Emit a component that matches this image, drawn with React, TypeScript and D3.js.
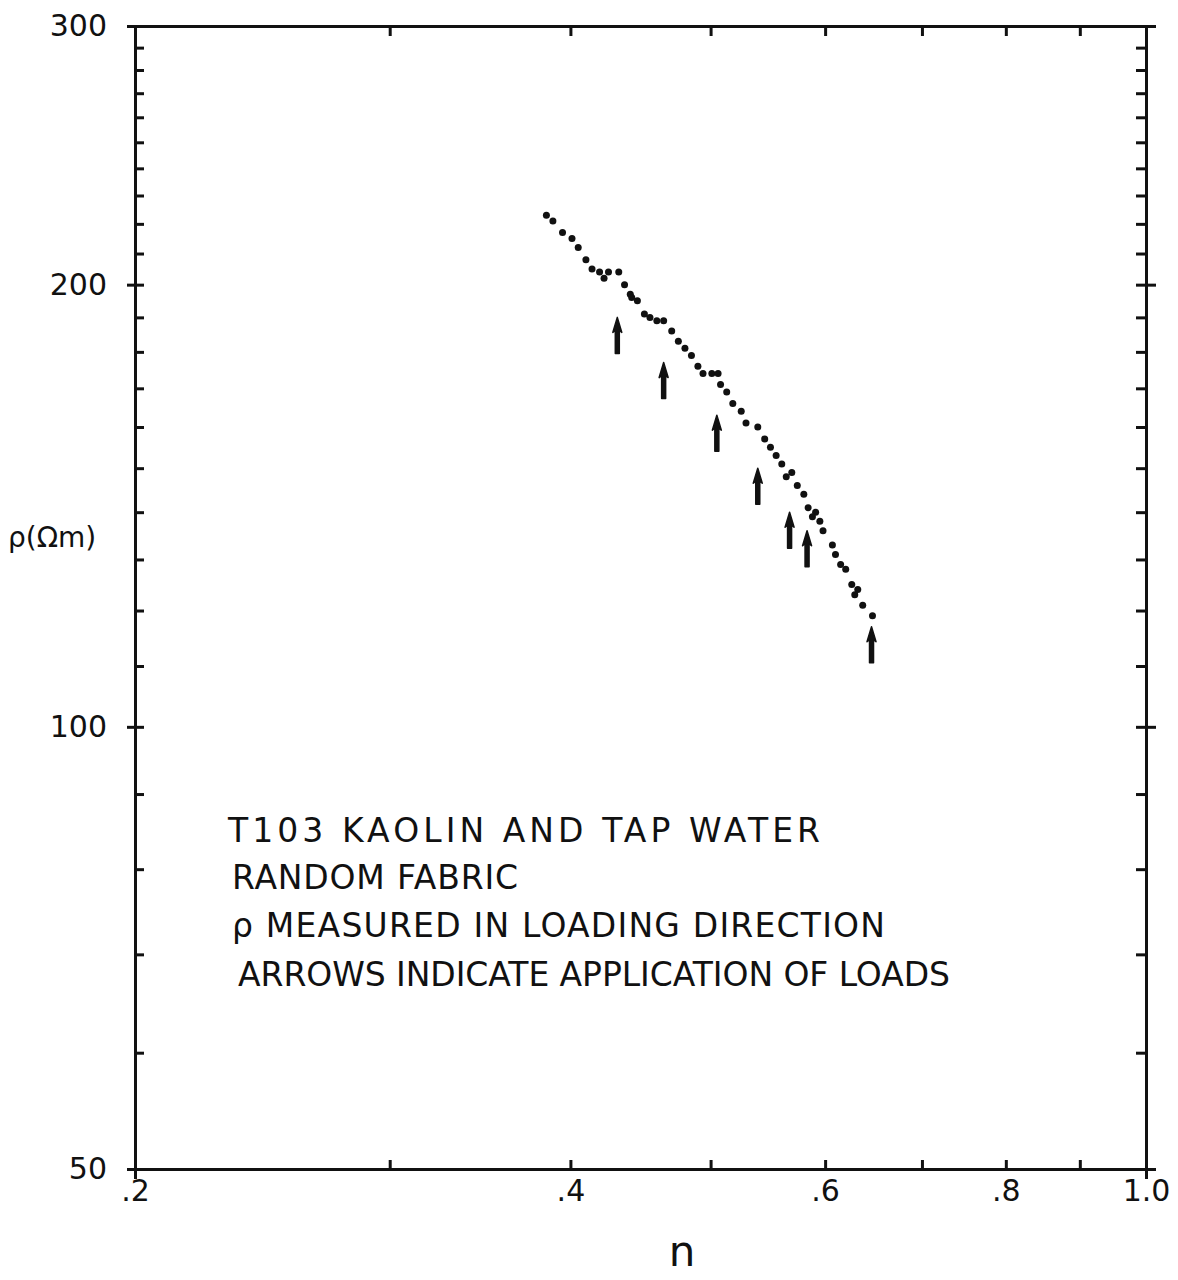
import * as d3 from "d3";
import { useEffect, useRef } from "react";

// Porosity n and resistivity rho (ohm-m)
const curveN = [
  0.385, 0.389, 0.395, 0.401, 0.405, 0.41, 0.414, 0.419, 0.422, 0.425, 0.432,
  0.436, 0.44, 0.441, 0.445, 0.45, 0.454, 0.459, 0.464, 0.47, 0.475, 0.48,
  0.485, 0.49, 0.494, 0.501, 0.506, 0.508, 0.513, 0.518, 0.525, 0.529, 0.539,
  0.545, 0.55, 0.555, 0.56, 0.564, 0.569, 0.574, 0.58, 0.584, 0.591, 0.588,
  0.595, 0.598, 0.607, 0.61, 0.615, 0.62, 0.626, 0.632, 0.629, 0.637, 0.647,
];
const curveRho = [
  223, 221, 217, 215, 212, 208, 205, 204, 202, 204, 204, 200, 197, 196, 195,
  191, 190, 189, 189, 186, 183, 181, 179, 176, 174, 174, 174, 171, 169, 166,
  164, 161, 160, 157, 155, 153, 151, 148, 149, 146, 144, 141, 140, 139, 138,
  136, 133, 131, 129, 128, 125, 124, 123, 121, 119,
];

// Load applications (arrow tip positions)
const arrowN = [0.431, 0.464, 0.505, 0.539, 0.567, 0.583, 0.646];
const arrowRho = [190, 177, 163, 150, 140, 136, 117];

// Axis ticks
const xTicks = [0.2, 0.3, 0.4, 0.5, 0.6, 0.7, 0.8, 0.9, 1.0];
const xLabelValues = [0.2, 0.4, 0.6, 0.8, 1.0];
const xLabelText = [".2", ".4", ".6", ".8", "1.0"];
const yTicks = [
  50, 60, 70, 80, 90, 100, 110, 120, 130, 140, 150, 160, 170, 180, 190, 200,
  210, 220, 230, 240, 250, 260, 270, 280, 290, 300,
];
const yLabelValues = [50, 100, 200, 300];
const yLabelText = ["50", "100", "200", "300"];

const notes = [
  "T103 KAOLIN AND TAP WATER",
  "RANDOM FABRIC",
  "ρ MEASURED IN LOADING DIRECTION",
  "ARROWS INDICATE APPLICATION OF LOADS",
];

export default function App() {
  const svgRef = useRef<SVGSVGElement | null>(null);

  useEffect(() => {
    if (!svgRef.current) return;
    const svg = d3.select(svgRef.current);
    svg.selectAll("*").remove();

    const width = 1178;
    const height = 1280;
    const left = 135;
    const right = 1146;
    const top = 26;
    const bottom = 1169;
    const ink = "#111";
    const font = "'DejaVu Sans', sans-serif";

    const x = d3.scaleLog().domain([0.2, 1.0]).range([left, right]);
    const y = d3.scaleLog().domain([50, 300]).range([bottom, top]);

    svg
      .attr("width", width)
      .attr("height", height)
      .style("display", "block")
      .style("position", "absolute")
      .style("left", "0px")
      .style("top", "0px");
    svg.append("rect").attr("width", width).attr("height", height).attr("fill", "#fff");

    const xLabel = (d: number) => {
      const i = xLabelValues.indexOf(d);
      return i >= 0 ? xLabelText[i] : "";
    };
    const yLabel = (d: number) => {
      const i = yLabelValues.indexOf(d);
      return i >= 0 ? yLabelText[i] : "";
    };

    // Inward ticks on all four sides
    svg
      .append("g")
      .attr("transform", `translate(0,${bottom})`)
      .call(
        d3.axisBottom(x).tickValues(xTicks).tickSizeInner(-9).tickSizeOuter(0)
          .tickPadding(11).tickFormat(xLabel as any),
      );
    svg
      .append("g")
      .attr("transform", `translate(0,${top})`)
      .call(
        d3.axisTop(x).tickValues(xTicks).tickSizeInner(-10).tickSizeOuter(0)
          .tickFormat(() => ""),
      );
    svg
      .append("g")
      .attr("transform", `translate(${left},0)`)
      .call(
        d3.axisLeft(y).tickValues(yTicks).tickSizeInner(-9).tickSizeOuter(0)
          .tickPadding(28).tickFormat(yLabel as any),
      );
    svg
      .append("g")
      .attr("transform", `translate(${right},0)`)
      .call(
        d3.axisRight(y).tickValues(yTicks).tickSizeInner(-10).tickSizeOuter(0)
          .tickFormat(() => ""),
      );

    // Major ticks that cross the frame outward
    svg
      .append("g")
      .attr("transform", `translate(${left},0)`)
      .call(d3.axisLeft(y).tickValues(yLabelValues).tickSize(8).tickFormat(() => ""));
    svg
      .append("g")
      .attr("transform", `translate(${right},0)`)
      .call(d3.axisRight(y).tickValues([100, 200, 300]).tickSize(10).tickFormat(() => ""));
    svg
      .append("g")
      .attr("transform", `translate(0,${bottom})`)
      .call(d3.axisBottom(x).tickValues([1.0]).tickSize(10).tickFormat(() => ""));

    svg.selectAll(".domain").attr("stroke", ink).attr("stroke-width", 3);
    svg.selectAll(".tick line").attr("stroke", ink).attr("stroke-width", 3);
    svg
      .selectAll(".tick text")
      .attr("fill", ink)
      .style("font-family", font)
      .style("font-size", "30px");

    // Axis titles
    svg
      .append("text")
      .attr("x", 682)
      .attr("y", 1266)
      .attr("text-anchor", "middle")
      .attr("fill", ink)
      .style("font-family", font)
      .style("font-size", "42px")
      .text("n");
    svg
      .append("text")
      .attr("x", 8)
      .attr("y", 547)
      .attr("fill", ink)
      .style("font-family", font)
      .style("font-size", "28px")
      .text("ρ(Ωm)");

    // Dotted curve
    svg
      .append("g")
      .selectAll("circle")
      .data(curveN)
      .join("circle")
      .attr("cx", (d) => x(d))
      .attr("cy", (_, i) => y(curveRho[i]))
      .attr("r", 3.5)
      .attr("fill", ink);

    // Arrows marking load applications
    const arrowPath = "M0,0 L4.5,15 L2,13 L2,36 L-2,36 L-2,13 L-4.5,15 Z";
    svg
      .append("g")
      .selectAll("path")
      .data(arrowN)
      .join("path")
      .attr("transform", (d, i) => `translate(${x(d)},${y(arrowRho[i])})`)
      .attr("d", arrowPath)
      .attr("fill", ink)
      .attr("stroke", ink)
      .attr("stroke-width", 1.5)
      .attr("stroke-linejoin", "round");

    // Annotation block
    const lineX = [228, 232, 232, 238];
    const lineY = [842, 889, 937, 986];
    const lineLen = [592, 286, 653, 712];
    svg
      .append("g")
      .selectAll("text")
      .data(notes)
      .join("text")
      .attr("x", (_, i) => lineX[i])
      .attr("y", (_, i) => lineY[i])
      .attr("textLength", (_, i) => lineLen[i])
      .attr("lengthAdjust", "spacing")
      .attr("fill", ink)
      .style("font-family", font)
      .style("font-size", "33px")
      .text((d) => d);
  }, []);

  return <svg ref={svgRef}></svg>;
}
